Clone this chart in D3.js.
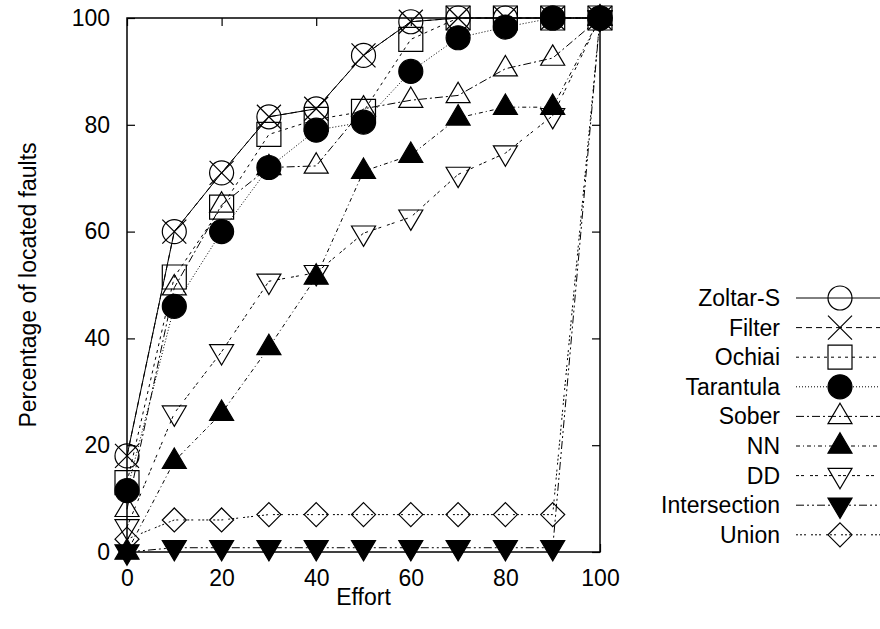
<!DOCTYPE html>
<html>
<head>
<meta charset="utf-8">
<script src="https://cdn.jsdelivr.net/npm/d3@7"></script>
<style>
  body { margin: 0; background: #fff; }
  text { font-family: "Liberation Sans", Arial, sans-serif; fill: #000; }
</style>
</head>
<body>
<svg class="svg" width="880" height="629"></svg>
<script>
// données
const effort = [0, 10, 20, 30, 40, 50, 60, 70, 80, 90, 100];
const zoltarS      = [18, 60, 71, 81.5, 83, 93, 99.3, 100, 100, 100, 100];
const filter       = [18, 60, 71, 81.5, 83, 93, 99.3, 100, 100, 100, 100];
const ochiai       = [13, 51.5, 64.6, 78.2, 81, 82.5, 96, 100, 100, 100, 100];
const tarantula    = [11.5, 46, 60, 72, 79, 80.5, 90, 96.3, 98.3, 100, 100];
const sober        = [8, 49.5, 65, 72, 72.3, 83, 84.6, 85.5, 90.5, 92.5, 100];
const nn           = [0, 17, 26, 38.3, 51.5, 71.3, 74.3, 81.3, 83.3, 83.3, 100];
const dd           = [4.7, 26, 37.5, 50.7, 52.3, 59.7, 62.7, 70.7, 74.7, 81.7, 100];
const intersection = [0, 0.8, 0.8, 0.8, 0.8, 0.8, 0.8, 0.8, 0.8, 0.8, 100];
const union        = [2.4, 6, 6, 7, 7, 7, 7, 7, 7, 7, 100];

const names = ["Zoltar-S", "Filter", "Ochiai", "Tarantula", "Sober", "NN", "DD", "Intersection", "Union"];
const valeurs = [zoltarS, filter, ochiai, tarantula, sober, nn, dd, intersection, union];
const xTicks = [0, 20, 40, 60, 80, 100];
const yTicks = [0, 20, 40, 60, 80, 100];

// styles par série
const dashes = ["", "6,4", "3,4", "1,2", "8,3,2,3", "4,3,1,3", "3,2,3,6", "8,3,2,3,2,3", "2,2,2,2,2,5"];

// symboles "maison" pour d3.symbol (la taille = demi-largeur)
const symCircle = { draw(c, s) { c.moveTo(s, 0); c.arc(0, 0, s, 0, 2 * Math.PI); } };
const symX = { draw(c, s) { c.moveTo(-s, -s); c.lineTo(s, s); c.moveTo(-s, s); c.lineTo(s, -s); } };
const symSquare = { draw(c, s) { c.rect(-s, -s, 2 * s, 2 * s); } };
const symUp = { draw(c, s) { c.moveTo(0, -s * 1.1); c.lineTo(s, s * 0.6); c.lineTo(-s, s * 0.6); c.closePath(); } };
const symDown = { draw(c, s) { c.moveTo(0, s * 1.1); c.lineTo(s, -s * 0.6); c.lineTo(-s, -s * 0.6); c.closePath(); } };
const symDiamond = { draw(c, s) { c.moveTo(0, -s); c.lineTo(s, 0); c.lineTo(0, s); c.lineTo(-s, 0); c.closePath(); } };

const shapes = [symCircle, symX, symSquare, symCircle, symUp, symUp, symDown, symDown, symDiamond];
const filled = [false, false, false, true, false, true, false, true, false];

const svg = d3.select(".svg");
const mLeft = 127, mRight = 600, mTop = 18, mBottom = 552;
const fs = 23;

const x = d3.scaleLinear().domain([0, 100]).range([mLeft, mRight]);
const y = d3.scaleLinear().domain([0, 100]).range([mBottom, mTop]);

// axes (ticks vers l'intérieur, en miroir)
svg.append("g").attr("transform", `translate(0,${mBottom})`)
  .call(d3.axisBottom(x).tickValues(xTicks).tickSize(-8).tickPadding(18).tickFormat(d3.format("d")));
svg.append("g").attr("transform", `translate(0,${mTop})`)
  .call(d3.axisTop(x).tickValues(xTicks).tickSize(-8).tickFormat(""));
svg.append("g").attr("transform", `translate(${mLeft},0)`)
  .call(d3.axisLeft(y).tickValues(yTicks).tickSize(-8).tickPadding(17).tickFormat(d3.format("d")));
svg.append("g").attr("transform", `translate(${mRight},0)`)
  .call(d3.axisRight(y).tickValues(yTicks).tickSize(-8).tickFormat(""));

svg.selectAll(".domain").remove();
svg.selectAll(".tick line").attr("stroke", "#000").attr("stroke-width", 1.2);
svg.selectAll(".tick text").attr("font-size", fs).attr("fill", "#000")
  .attr("font-family", "Liberation Sans, Arial, sans-serif");

svg.append("rect").attr("x", mLeft).attr("y", mTop)
  .attr("width", mRight - mLeft).attr("height", mBottom - mTop)
  .attr("fill", "none").attr("stroke", "#000").attr("stroke-width", 1.5);

svg.append("text").text("Effort").attr("x", (mLeft + mRight) / 2).attr("y", 605)
  .attr("text-anchor", "middle").attr("font-size", fs);
svg.append("text").text("Percentage of located faults")
  .attr("transform", `translate(36,${(mTop + mBottom) / 2}) rotate(-90)`)
  .attr("text-anchor", "middle").attr("font-size", fs);

const line = d3.line().x((d, i) => x(effort[i])).y(d => y(d));

names.forEach((name, k) => {
  const g = svg.append("g");
  g.append("path").datum(valeurs[k]).attr("d", line)
    .attr("fill", "none").attr("stroke", "#000").attr("stroke-width", 1)
    .attr("stroke-dasharray", dashes[k]);
  g.selectAll("path.pt").data(valeurs[k]).enter().append("path").attr("class", "pt")
    .attr("transform", (d, i) => `translate(${x(effort[i])},${y(d)})`)
    .attr("d", d3.symbol().type(shapes[k]).size(12))
    .attr("fill", filled[k] ? "#000" : "none")
    .attr("stroke", "#000").attr("stroke-width", 1.2);

  // légende
  const ly = 298 + k * 29.6;
  g.append("text").text(name).attr("x", 780).attr("y", ly + 8)
    .attr("text-anchor", "end").attr("font-size", fs);
  g.append("line").attr("x1", 796).attr("x2", 880).attr("y1", ly).attr("y2", ly)
    .attr("stroke", "#000").attr("stroke-width", 1).attr("stroke-dasharray", dashes[k]);
  g.append("path").attr("transform", `translate(840,${ly})`)
    .attr("d", d3.symbol().type(shapes[k]).size(12))
    .attr("fill", filled[k] ? "#000" : "none")
    .attr("stroke", "#000").attr("stroke-width", 1.2);
});
</script>
</body>
</html>
